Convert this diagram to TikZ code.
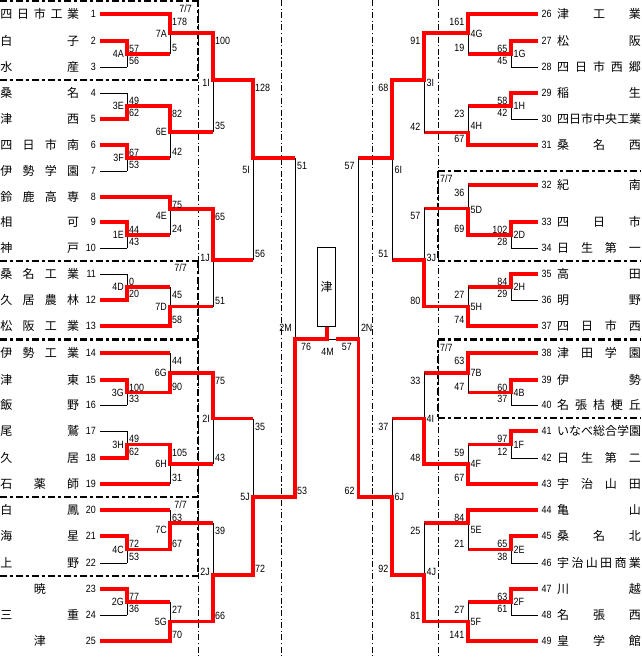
\documentclass[tikz,border=0pt]{standalone}
\usepackage{fontspec}
\newfontfamily\jpfont{Noto Sans CJK JP}
\newfontfamily\numfont[FakeStretch=0.85]{Liberation Sans}
\definecolor{wred}{RGB}{255,0,0}
\tikzset{
 win/.style={draw=wred, line width=3.6pt, line join=miter, shorten <=-1.8pt},
 teamwin/.style={draw=wred, line width=3.6pt},
 lose/.style={draw=black, line width=0.9pt},
 num/.style={font=\numfont\fontsize{10.5}{10.5}\selectfont, inner sep=0pt},
 tname/.style={font=\jpfont\fontsize{12}{12}\selectfont, inner sep=0pt, anchor=west},
 colline/.style={draw=black, line width=0.8pt, dash pattern=on 6pt off 2.5pt on 1.2pt off 2.5pt},
 boxline/.style={draw=black, line width=2.4pt, dash pattern=on 7pt off 3pt on 3pt off 3pt},
}
% left match: X, Xnext, upY, loY, outY, winY, upScore, loScore, label
\newcommand{\lmatch}[9]{%
  \pgfmathsetmacro{\bkmid}{(#3+#4)/2}%
  \pgfmathsetmacro{\bkup}{#3+8}%
  \pgfmathsetmacro{\bklo}{#4-6}%
  \pgfmathsetmacro{\bksx}{#1+2}%
  \pgfmathsetmacro{\bklx}{#1-3}%
  \coordinate (#9-t) at (#1,#3);
  \coordinate (#9-b) at (#1,#4);
  \coordinate (#9-w) at (#1,#6);
  \coordinate (#9-o) at (#1,#5);
  \coordinate (#9) at (#2,#5);
  \draw[lose] (#9-t) -- (#9-b);
  \draw[win] (#9-w) -- (#9-o) -- (#9);
  \node[num,anchor=west] (#9-us) at (\bksx,\bkup) {#7};
  \node[num,anchor=west] (#9-ls) at (\bksx,\bklo) {#8};
  \node[num,anchor=east] (#9-lab) at (\bklx,\bkmid) {#9};
}
% right match
\newcommand{\rmatch}[9]{%
  \pgfmathsetmacro{\bkmid}{(#3+#4)/2}%
  \pgfmathsetmacro{\bkup}{#3+8}%
  \pgfmathsetmacro{\bklo}{#4-6}%
  \pgfmathsetmacro{\bksx}{#1-3.5}%
  \pgfmathsetmacro{\bklx}{#1+2.5}%
  \coordinate (#9-t) at (#1,#3);
  \coordinate (#9-b) at (#1,#4);
  \coordinate (#9-w) at (#1,#6);
  \coordinate (#9-o) at (#1,#5);
  \coordinate (#9) at (#2,#5);
  \draw[lose] (#9-t) -- (#9-b);
  \draw[win] (#9-w) -- (#9-o) -- (#9);
  \node[num,anchor=east] (#9-us) at (\bksx,\bkup) {#7};
  \node[num,anchor=east] (#9-ls) at (\bksx,\bklo) {#8};
  \node[num,anchor=west] (#9-lab) at (\bklx,\bkmid) {#9};
}
\newcommand{\lteam}[5]{%
  \node[tname] (t#1) at (0.3,#2) {\makebox[78.7pt][s]{#5}};
  \node[num,anchor=east] (n#1) at (96,#2) {#1};
  \coordinate (s#1) at (100,#2);
  \coordinate (e#1) at (#3,#2);
  \draw[#4] (s#1) -- (e#1);
}
\newcommand{\rteam}[5]{%
  \node[tname] (t#1) at (557,#2) {\makebox[83.7pt][s]{#5}};
  \node[num,anchor=west] (n#1) at (541.5,#2) {#1};
  \coordinate (s#1) at (538,#2);
  \coordinate (e#1) at (#3,#2);
  \draw[#4] (s#1) -- (e#1);
}
\begin{document}
\begin{tikzpicture}[x=1pt,y=-1pt]
\useasboundingbox (0,0) rectangle (641,657);
% column separators
\draw[colline] (198,0) -- (198,657);
\draw[colline] (281,0) -- (281,657);
\draw[colline] (372.3,0) -- (372.3,657);
\draw[colline] (438,0) -- (438,657);
% date boxes left
\draw[boxline] (0,1.2) -- (198,1.2);
\draw[boxline] (0,80) -- (198,80);
\draw[boxline] (0,261) -- (198,261);
\draw[boxline] (0,339.5) -- (198,339.5);
\draw[boxline] (0,497) -- (198,497);
\draw[boxline] (0,576) -- (198,576);
\draw[boxline] (198,0) -- (198,80);
\draw[boxline] (198,261) -- (198,576);
% date boxes right
\draw[boxline] (438,171) -- (641,171);
\draw[boxline] (438,261) -- (641,261);
\draw[boxline] (438,339.5) -- (641,339.5);
\draw[boxline] (438,418) -- (641,418);
\draw[boxline] (438,171) -- (438,261);
\draw[boxline] (438,339.5) -- (438,418);
% dates
\node[num,anchor=east] (d1) at (192,8.5) {7/7};
\node[num,anchor=east] (d2) at (187,268) {7/7};
\node[num,anchor=east] (d3) at (187,504.5) {7/7};
\node[num,anchor=west] (d4) at (440,179) {7/7};
\node[num,anchor=west] (d5) at (440,347.5) {7/7};
% left teams
\lteam{1}{14}{170}{teamwin}{四\hfill 日\hfill 市\hfill 工\hfill 業}
\lteam{2}{41}{127}{teamwin}{白\hfill 子}
\lteam{3}{67}{127}{lose}{水\hfill 産}
\lteam{4}{93}{127}{lose}{桑\hfill 名}
\lteam{5}{119}{127}{teamwin}{津\hfill 西}
\lteam{6}{145}{127}{teamwin}{四\hfill 日\hfill 市\hfill 南}
\lteam{7}{171}{127}{lose}{伊\hfill 勢\hfill 学\hfill 園}
\lteam{8}{197}{170}{teamwin}{鈴\hfill 鹿\hfill 高\hfill 専}
\lteam{9}{222}{127}{teamwin}{相\hfill 可}
\lteam{10}{248}{127}{lose}{神\hfill 戸}
\lteam{11}{274}{127}{lose}{桑\hfill 名\hfill 工\hfill 業}
\lteam{12}{300}{127}{teamwin}{久\hfill 居\hfill 農\hfill 林}
\lteam{13}{326}{170}{teamwin}{松\hfill 阪\hfill 工\hfill 業}
\lteam{14}{353}{170}{teamwin}{伊\hfill 勢\hfill 工\hfill 業}
\lteam{15}{380}{127}{teamwin}{津\hfill 東}
\lteam{16}{405}{127}{lose}{飯\hfill 野}
\lteam{17}{431}{127}{lose}{尾\hfill 鷲}
\lteam{18}{458}{127}{teamwin}{久\hfill 居}
\lteam{19}{484}{170}{teamwin}{石\hfill 薬\hfill 師}
\lteam{20}{510}{170}{teamwin}{白\hfill 鳳}
\lteam{21}{536}{127}{teamwin}{海\hfill 星}
\lteam{22}{563}{127}{lose}{上\hfill 野}
\lteam{23}{589}{127}{teamwin}{\hfill 暁\hfill{}}
\lteam{24}{615}{127}{lose}{三\hfill 重}
\lteam{25}{641}{170}{teamwin}{\hfill 津\hfill{}}
% right teams
\rteam{26}{14}{468}{teamwin}{津\hfill 工\hfill 業}
\rteam{27}{41}{511}{teamwin}{松\hfill 阪}
\rteam{28}{67}{511}{lose}{四\hfill 日\hfill 市\hfill 西\hfill 郷}
\rteam{29}{93}{511}{teamwin}{稲\hfill 生}
\rteam{30}{119}{511}{lose}{四\hfill 日\hfill 市\hfill 中\hfill 央\hfill 工\hfill 業}
\rteam{31}{145}{468}{teamwin}{桑\hfill 名\hfill 西}
\rteam{32}{185}{468}{teamwin}{紀\hfill 南}
\rteam{33}{222}{511}{teamwin}{四\hfill 日\hfill 市}
\rteam{34}{248}{511}{lose}{日\hfill 生\hfill 第\hfill 一}
\rteam{35}{274}{511}{teamwin}{高\hfill 田}
\rteam{36}{300}{511}{lose}{明\hfill 野}
\rteam{37}{326}{468}{teamwin}{四\hfill 日\hfill 市\hfill 西}
\rteam{38}{353}{468}{teamwin}{津\hfill 田\hfill 学\hfill 園}
\rteam{39}{380}{511}{teamwin}{伊\hfill 勢}
\rteam{40}{405}{511}{lose}{名\hfill 張\hfill 桔\hfill 梗\hfill 丘}
\rteam{41}{431}{511}{teamwin}{い\hfill な\hfill べ\hfill 総\hfill 合\hfill 学\hfill 園}
\rteam{42}{458}{511}{lose}{日\hfill 生\hfill 第\hfill 二}
\rteam{43}{484}{468}{teamwin}{宇\hfill 治\hfill 山\hfill 田}
\rteam{44}{510}{468}{teamwin}{亀\hfill 山}
\rteam{45}{536}{511}{teamwin}{桑\hfill 名\hfill 北}
\rteam{46}{563}{511}{lose}{宇\hfill 治\hfill 山\hfill 田\hfill 商\hfill 業}
\rteam{47}{589}{511}{teamwin}{川\hfill 越}
\rteam{48}{615}{511}{lose}{名\hfill 張\hfill 西}
\rteam{49}{641}{468}{teamwin}{皇\hfill 学\hfill 館}
% left matches
\lmatch{127}{170}{41}{67}{54}{41}{57}{56}{4A}
\lmatch{127}{170}{93}{119}{106}{119}{49}{62}{3E}
\lmatch{127}{170}{145}{171}{158}{145}{67}{53}{3F}
\lmatch{127}{170}{222}{248}{235}{222}{44}{43}{1E}
\lmatch{127}{170}{274}{300}{287}{300}{0}{20}{4D}
\lmatch{127}{170}{380}{405}{392.5}{380}{100}{33}{3G}
\lmatch{127}{170}{431}{458}{444.5}{458}{49}{62}{3H}
\lmatch{127}{170}{536}{563}{549.5}{536}{72}{53}{4C}
\lmatch{127}{170}{589}{615}{602}{589}{77}{36}{2G}
\lmatch{170}{213}{14}{54}{33}{14}{178}{5}{7A}
\lmatch{170}{213}{106}{158}{132}{106}{82}{42}{6E}
\lmatch{170}{213}{197}{235}{209}{197}{75}{24}{4E}
\lmatch{170}{213}{287}{326}{306.5}{326}{45}{58}{7D}
\lmatch{170}{213}{353}{392.5}{372.75}{392.5}{44}{90}{6G}
\lmatch{170}{213}{444.5}{484}{464.25}{444.5}{105}{31}{6H}
\lmatch{170}{213}{510}{549.5}{523}{549.5}{63}{67}{7C}
\lmatch{170}{213}{602}{641}{621.5}{641}{27}{70}{5G}
\lmatch{213}{253}{33}{132}{80}{33}{100}{35}{1I}
\lmatch{213}{253}{209}{306.5}{260}{209}{65}{51}{1J}
\lmatch{213}{253}{372.75}{464.25}{418.5}{372.75}{75}{43}{2I}
\lmatch{213}{253}{523}{621.5}{575}{621.5}{39}{66}{2J}
\lmatch{253}{295}{80}{260}{158}{80}{128}{56}{5I}
\lmatch{253}{295}{418.5}{575}{497}{575}{35}{72}{5J}
\lmatch{295}{326.7}{158}{497}{339}{497}{51}{53}{2M}
% right matches
\rmatch{511}{468}{41}{67}{54}{41}{65}{45}{1G}
\rmatch{511}{468}{93}{119}{106}{93}{58}{42}{1H}
\rmatch{511}{468}{222}{248}{235}{222}{102}{28}{2D}
\rmatch{511}{468}{274}{300}{287}{274}{84}{29}{2H}
\rmatch{511}{468}{380}{405}{392.5}{380}{60}{37}{4B}
\rmatch{511}{468}{431}{458}{444.5}{431}{97}{12}{1F}
\rmatch{511}{468}{536}{563}{549.5}{536}{65}{38}{2E}
\rmatch{511}{468}{589}{615}{602}{589}{63}{61}{2F}
\rmatch{468}{424}{14}{54}{33}{14}{161}{19}{4G}
\rmatch{468}{424}{106}{145}{132.5}{145}{23}{67}{4H}
\rmatch{468}{424}{185}{235}{208.3}{235}{36}{69}{5D}
\rmatch{468}{424}{287}{326}{306.5}{326}{27}{74}{5H}
\rmatch{468}{424}{353}{392.5}{372.75}{353}{63}{47}{7B}
\rmatch{468}{424}{444.5}{484}{464.25}{484}{59}{67}{4F}
\rmatch{468}{424}{510}{549.5}{523}{510}{84}{21}{5E}
\rmatch{468}{424}{602}{641}{621.5}{641}{27}{141}{5F}
\rmatch{424}{392}{33}{132.5}{80}{33}{91}{42}{3I}
\rmatch{424}{392}{208.3}{306.5}{260}{306.5}{57}{80}{3J}
\rmatch{424}{392}{372.75}{464.25}{418.5}{464.25}{33}{48}{4I}
\rmatch{424}{392}{523}{621.5}{575}{621.5}{25}{81}{4J}
\rmatch{392}{358.3}{80}{260}{158}{80}{68}{51}{6I}
\rmatch{392}{358.3}{418.5}{575}{497}{575}{37}{92}{6J}
\rmatch{358.3}{335.7}{158}{497}{339}{497}{57}{62}{2N}
% final
\node[draw=black, line width=0.9pt, minimum width=18pt, minimum height=79.4pt, inner sep=0pt, font=\jpfont\fontsize{12}{12}\selectfont] (champ) at (326.7,287) {津};
\draw[lose] (2M) -- (2N);
\draw[win] (2M) -- (champ.south);
\node[num,anchor=west] (f-l) at (301,346.7) {76};
\node[num,anchor=east] (f-r) at (352,346.7) {57};
\node[num] (f-lab) at (327.5,352.3) {4M};
\end{tikzpicture}
\end{document}
